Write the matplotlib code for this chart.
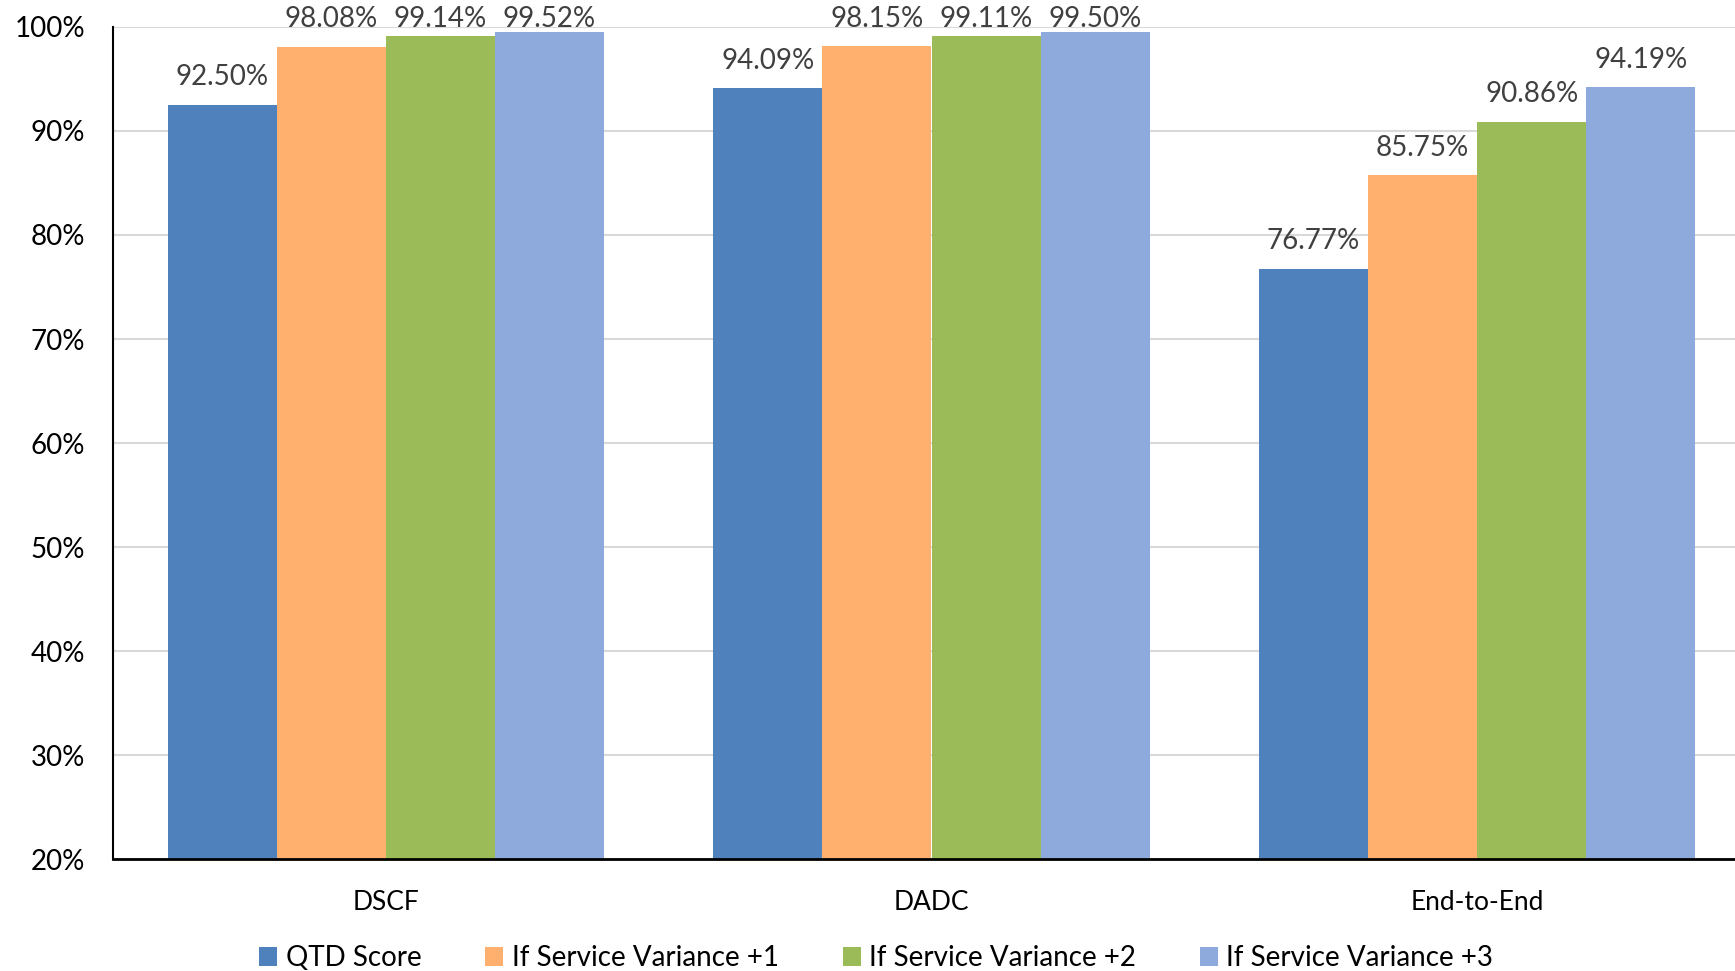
import numpy as np
import matplotlib.pyplot as plt

plt.rcParams['font.family'] = ['Lato', 'DejaVu Sans']

categories = ['DSCF', 'DADC', 'End-to-End']
series_names = ['QTD Score', 'If Service Variance +1',
                'If Service Variance +2', 'If Service Variance +3']
values = [
    [92.50, 94.09, 76.77],
    [98.08, 98.15, 85.75],
    [99.14, 99.11, 90.86],
    [99.52, 99.50, 94.19],
]
colors = ['#4F81BD', '#FFB06E', '#9BBB59', '#8EA9DB']

fig = plt.figure(figsize=(17.35, 9.71), dpi=100)
ax = fig.add_axes([113 / 1735, 1 - 859 / 971, 1637 / 1735, 832 / 971])

x = np.arange(len(categories))
w = 0.2
for i, (name, vals) in enumerate(zip(series_names, values)):
    pos = x - 0.3 + i * w
    bars = ax.bar(pos, vals, w, color=colors[i], label=name, zorder=2)
    for b, v in zip(bars, vals):
        # labels sit above the bar but are pushed down near the top edge
        ly = min(v + 2.65, 100.75)
        ax.text(b.get_x() + b.get_width() / 2, ly, '%.2f%%' % v,
                ha='center', va='center', fontsize=20, color='#404040',
                clip_on=False)

ax.set_xlim(-0.5, 2.5)
ax.set_ylim(20, 100)
ax.set_yticks(range(20, 101, 10))
ax.set_yticklabels(['%d%%' % t for t in range(20, 101, 10)])
ax.set_xticks(x)
ax.set_xticklabels(categories)
ax.tick_params(axis='y', length=0, pad=20, labelsize=20)
ax.tick_params(axis='x', length=0, pad=22, labelsize=19)
ax.grid(axis='y', color='#D9D9D9', linewidth=1.5, zorder=0)
ax.set_axisbelow(True)
for s in ['top', 'right']:
    ax.spines[s].set_visible(False)
ax.spines['left'].set_linewidth(1.5)
ax.spines['bottom'].set_linewidth(2)

fig.legend(loc='center', bbox_to_anchor=(0.505, 1 - 958 / 971), ncol=4,
           frameon=False, fontsize=20, handlelength=0.65, handleheight=0.65,
           handletextpad=0.3, columnspacing=2.3)

fig.savefig('out.png', dpi=100)
